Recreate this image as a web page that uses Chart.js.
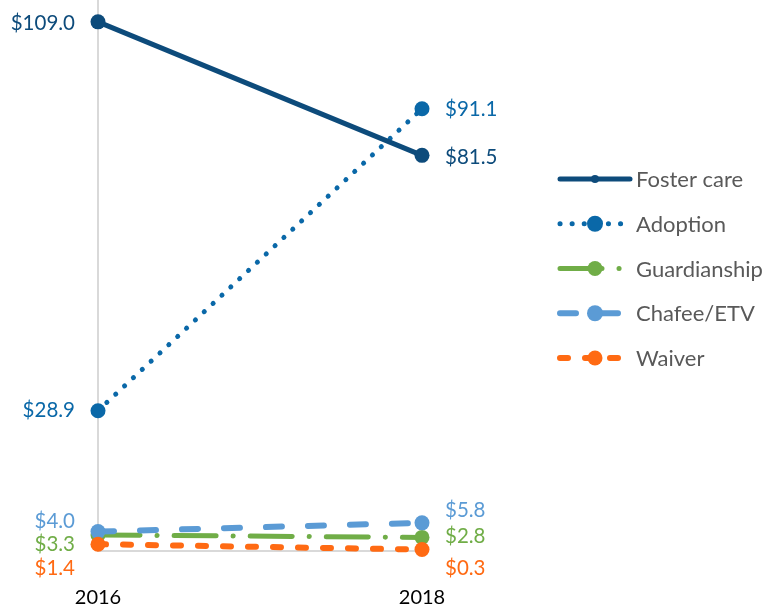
<!DOCTYPE html>
<html>
<head>
<meta charset="utf-8">
<script src="https://cdn.jsdelivr.net/npm/chart.js@4.4.0/dist/chart.umd.min.js"></script>
<style>
  html, body { margin: 0; padding: 0; background: #fff; }
</style>
</head>
<body>
<canvas id="chart1" width="767" height="605"></canvas>
<script>
// data
var years = ['2016', '2018'];
var seriesNames = ['Foster care', 'Adoption', 'Guardianship', 'Chafee/ETV', 'Waiver'];
var fosterCare = [109.0, 81.5];
var adoption = [28.9, 91.1];
var guardianship = [3.3, 2.8];
var chafee = [4.0, 5.8];
var waiver = [1.4, 0.3];
var yMax = 113.5;

// styles
var colors = ['#0d4b7b', '#0a68a8', '#70ad47', '#5b9bd5', '#ff6a13'];
var dashes = [[], [0.1, 12], [42, 17, 0.1, 17], [16, 26], [8, 17]];
var widths = [5, 5, 5, 6, 6];
var drawOrder = [1, 2, 5, 4, 3];
var legendMarker = [4, 8, 7.5, 8, 7.5];
// vertical nudges of the value labels, [left point, right point]
var labelShift = [[2, 2], [0, 1], [9, -1], [-10, -12], [24, 19]];

var ctx = document.getElementById('chart1').getContext('2d');

var valueLabels = {
  id: 'valueLabels',
  afterDatasetsDraw: function(chart) {
    var c = chart.ctx;
    c.save();
    c.font = '20.5px Lato';
    c.textBaseline = 'middle';
    chart.data.datasets.forEach(function(ds, i) {
      var meta = chart.getDatasetMeta(i);
      meta.data.forEach(function(pt, j) {
        c.fillStyle = colors[i];
        c.textAlign = j === 0 ? 'right' : 'left';
        var x = pt.x + (j === 0 ? -23 : 23);
        c.fillText('$' + ds.data[j].toFixed(1), x, pt.y + labelShift[i][j]);
      });
    });
    c.restore();
  }
};

var sideLegend = {
  id: 'sideLegend',
  afterDraw: function(chart) {
    var c = chart.ctx;
    c.save();
    chart.data.datasets.forEach(function(ds, i) {
      var y = 179 + i * 44.75;
      c.strokeStyle = colors[i];
      c.lineWidth = widths[i];
      c.lineCap = 'round';
      c.setLineDash(dashes[i]);
      c.beginPath();
      c.moveTo(560, y);
      c.lineTo(630, y);
      c.stroke();
      c.setLineDash([]);
      c.fillStyle = colors[i];
      c.beginPath();
      c.arc(595, y, legendMarker[i], 0, Math.PI * 2);
      c.fill();
      c.fillStyle = '#595959';
      c.font = '22px Lato';
      c.textAlign = 'left';
      c.textBaseline = 'middle';
      c.fillText(ds.label, 636, y + 1);
    });
    c.restore();
  }
};

var series = [fosterCare, adoption, guardianship, chafee, waiver];

var myChart = new Chart(ctx, {
  type: 'line',
  data: {
    labels: years,
    datasets: series.map(function(vals, i) {
      return {
        label: seriesNames[i],
        data: vals,
        borderColor: colors[i],
        backgroundColor: colors[i],
        borderWidth: widths[i],
        borderDash: dashes[i],
        borderCapStyle: 'round',
        pointRadius: 7.5,
        pointBorderWidth: 0,
        pointBackgroundColor: colors[i],
        order: drawOrder[i],
        clip: false
      };
    })
  },
  options: {
    responsive: false,
    animation: false,
    devicePixelRatio: 1,
    layout: { autoPadding: false, padding: { left: 98, right: 345, top: 0, bottom: 0 } },
    plugins: {
      legend: { display: false },
      tooltip: { enabled: false }
    },
    scales: {
      x: {
        grid: { display: false, drawTicks: false },
        border: { display: true, color: '#d9d9d9', width: 2 },
        ticks: { color: '#000', font: { family: 'Lato', size: 20 }, padding: 35, maxRotation: 0 },
        afterFit: function(s) { s.height = 54; }
      },
      y: {
        min: 0,
        max: yMax,
        grid: { display: false, drawTicks: false },
        border: { display: true, color: '#d9d9d9', width: 2 },
        ticks: { display: false },
        afterFit: function(s) { s.width = 0; }
      }
    }
  },
  plugins: [valueLabels, sideLegend]
});
</script>
</body>
</html>
